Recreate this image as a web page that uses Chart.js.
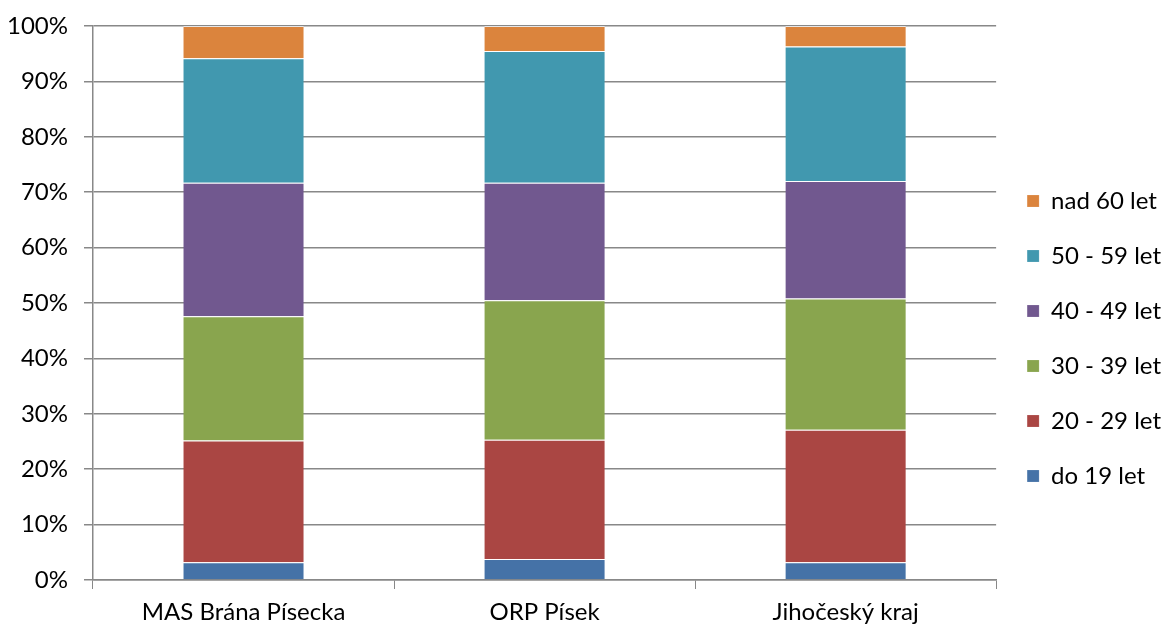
<!DOCTYPE html>
<html>
<head>
<meta charset="utf-8">
<script src="https://cdn.jsdelivr.net/npm/chart.js@4"></script>
<style>
  html, body { margin: 0; padding: 0; background: #fff; }
  #wrap { width: 1171px; height: 626px; }
</style>
</head>
<body>
<div id="wrap"><canvas id="ageChart"></canvas></div>
<script>
// ================= DATA =================
const regions = ["MAS Brána Písecka", "ORP Písek", "Jihočeský kraj"];
const groups = ["do 19 let", "20 - 29 let", "30 - 39 let", "40 - 49 let", "50 - 59 let", "nad 60 let"];

const do19   = [3.2, 3.8, 3.2];
const age20s = [22.0, 21.5, 23.9];
const age30s = [22.4, 25.2, 23.7];
const age40s = [24.1, 21.2, 21.2];
const age50s = [22.5, 23.8, 24.3];
const over60 = [5.8, 4.5, 3.7];

const colors = ["#4572A7", "#AA4643", "#89A54E", "#71588F", "#4198AF", "#DB843D"];

// ================= CHART =================
const series = [do19, age20s, age30s, age40s, age50s, over60];
const font = "Lato, 'Open Sans', sans-serif";

new Chart(document.getElementById("ageChart"), {
  type: "bar",
  data: {
    labels: regions,
    datasets: series.map((data, i) => ({
      label: groups[i],
      data,
      backgroundColor: colors[i],
      borderColor: "rgba(255,255,255,0.6)",
      borderWidth: { top: 1 },
      barPercentage: 0.4,
      categoryPercentage: 1
    }))
  },
  options: {
    responsive: true,
    maintainAspectRatio: false,
    animation: false,
    // bottom pushed past the canvas so the legend sits a bit lower, like the original
    layout: { padding: { top: 26, left: 0, right: 0, bottom: -25 } },
    plugins: {
      tooltip: { enabled: false },
      legend: {
        position: "right",
        reverse: true,
        labels: {
          boxWidth: 12,
          boxHeight: 12,
          padding: 31,
          color: "#000",
          font: { family: font, size: 24 }
        }
      }
    },
    scales: {
      x: {
        stacked: true,
        afterFit: (scale) => { scale.height = 71; },
        grid: {
          offset: true,
          drawOnChartArea: false,
          tickLength: 9,
          color: "#888"
        },
        border: { color: "#888", width: 1.5 },
        ticks: { color: "#000", padding: 9, font: { family: font, size: 24 } }
      },
      y: {
        stacked: true,
        min: 0,
        max: 100,
        afterFit: (scale) => {
          scale.width = 93;
          scale.paddingTop = 14;
          scale.paddingBottom = 14;
        },
        grid: { color: "#888", lineWidth: 1.5, tickLength: 9 },
        border: { color: "#888", width: 1.5 },
        ticks: {
          stepSize: 10,
          color: "#000",
          padding: 16,
          font: { family: font, size: 24 },
          callback: v => v + "%"
        }
      }
    }
  }
});
</script>
</body>
</html>
